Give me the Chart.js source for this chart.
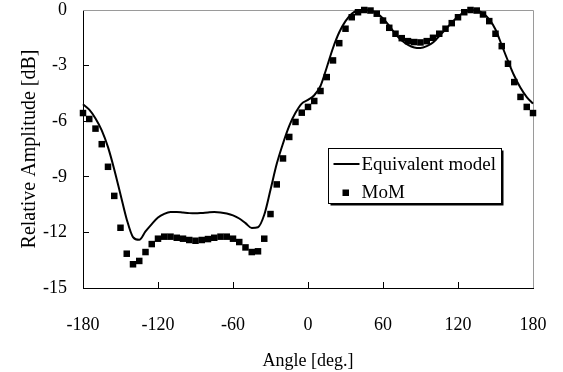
<!DOCTYPE html>
<html>
<head>
<meta charset="utf-8">
<script src="https://cdn.jsdelivr.net/npm/chart.js@4/dist/chart.umd.min.js"></script>
<style>
  html, body { margin: 0; padding: 0; background: #fff; }
  #wrap { width: 563px; height: 372px; }
</style>
</head>
<body>
<div id="wrap"><canvas id="chart"></canvas></div>
<script>
// Angle samples [deg.]
const angleDeg = [
  -180, -175, -170, -165, -160, -155, -150, -145, -140, -135, -130, -125, -120,
  -115, -110, -105, -100, -95, -90, -85, -80, -75, -70, -65, -60,
  -55, -50, -45, -40, -35, -30, -25, -20, -15, -10, -5, 0,
  5, 10, 15, 20, 25, 30, 35, 40, 45, 50, 55, 60,
  65, 70, 75, 80, 85, 90, 95, 100, 105, 110, 115, 120,
  125, 130, 135, 140, 145, 150, 155, 160, 165, 170, 175, 180
];

// Equivalent model (solid line) [dB]
const modelDb = [
  -5.09, -5.38, -5.85, -6.49, -7.40, -8.60, -9.95, -11.30, -12.25, -12.40, -11.95, -11.55, -11.20,
  -11.00, -10.90, -10.90, -10.93, -10.96, -10.97, -10.95, -10.92, -10.90, -10.92, -10.98, -11.08,
  -11.25, -11.50, -11.76, -11.72, -11.05, -9.70, -8.30, -7.20, -6.25, -5.55, -5.05, -4.85,
  -4.60, -4.10, -3.10, -2.05, -1.20, -0.60, -0.20, -0.03, 0.00, -0.03, -0.18, -0.45,
  -0.85, -1.30, -1.65, -1.88, -2.02, -2.05, -1.95, -1.75, -1.40, -1.05, -0.68, -0.35,
  -0.12, 0.00, -0.03, -0.18, -0.50, -1.05, -1.90, -2.75, -3.55, -4.20, -4.70, -5.05
];

// MoM (square markers) [dB]
const momDb = [
  -5.56, -5.88, -6.40, -7.24, -8.46, -10.03, -11.75, -13.15, -13.72, -13.54, -13.06, -12.63, -12.34,
  -12.23, -12.23, -12.29, -12.34, -12.41, -12.45, -12.41, -12.36, -12.29, -12.23, -12.23, -12.34,
  -12.52, -12.81, -13.06, -13.02, -12.34, -11.01, -9.41, -8.01, -6.85, -6.04, -5.54, -5.23,
  -4.91, -4.37, -3.62, -2.72, -1.79, -1.01, -0.39, -0.12, 0.00, -0.03, -0.20, -0.57,
  -0.96, -1.28, -1.52, -1.68, -1.73, -1.75, -1.68, -1.50, -1.28, -1.01, -0.71, -0.39,
  -0.12, 0.00, -0.03, -0.24, -0.60, -1.28, -1.95, -2.90, -3.89, -4.69, -5.23, -5.56
];

const xTickValues = [-180, -120, -60, 0, 60, 120, 180];
const yTickValues = [-15, -12, -9, -6, -3, 0];

const serif = "'Liberation Serif', 'DejaVu Serif', serif";

// Gray frame on top/right plus the boxed legend with a drop shadow
const framePlugin = {
    id: 'frame',
    beforeDatasetsDraw(chart) {
        const { ctx, chartArea: a } = chart;
        ctx.save();
        ctx.strokeStyle = '#9a9a9a';
        ctx.lineWidth = 1;
        ctx.beginPath();
        ctx.moveTo(a.left, a.top + 0.5);
        ctx.lineTo(a.right + 0.5, a.top + 0.5);
        ctx.lineTo(a.right + 0.5, a.bottom);
        ctx.stroke();
        ctx.restore();
    },
    afterDraw(chart) {
        const { ctx, chartArea: a } = chart;
        const w = a.right - a.left;
        const h = a.bottom - a.top;
        const bx = Math.round(a.left + 0.544 * w) + 0.5;
        const by = Math.round(a.top + 0.496 * h) + 0.5;
        const bw = 173;
        const bh = 55;

        ctx.save();
        ctx.fillStyle = '#000';
        ctx.fillRect(bx + 2, by + 2, bw, bh);
        ctx.fillStyle = '#fff';
        ctx.fillRect(bx, by, bw, bh);
        ctx.strokeStyle = '#000';
        ctx.lineWidth = 1;
        ctx.strokeRect(bx, by, bw, bh);

        const ds = chart.data.datasets;
        ctx.font = '19px ' + serif;
        ctx.textBaseline = 'middle';
        ctx.fillStyle = '#000';

        // line entry
        const y1 = by + 15.5;
        ctx.lineWidth = 2;
        ctx.beginPath();
        ctx.moveTo(bx + 5, y1);
        ctx.lineTo(bx + 31, y1);
        ctx.stroke();
        ctx.fillText(ds[0].label, bx + 33, y1 + 1);

        // marker entry
        const y2 = by + 44;
        ctx.fillRect(bx + 14, y2 - 3, 6.5, 6.5);
        ctx.fillText(ds[1].label, bx + 33, y2 + 1);
        ctx.restore();
    }
};

// pin the plot box: fixed axis sizes, no automatic label padding
const pinX = s => {
    s.height = 84;
    s.paddingLeft = 0;
    s.paddingRight = 0;
};
const pinY = s => {
    s.width = 83;
    s.paddingTop = 0;
    s.paddingBottom = 0;
};

new Chart(document.getElementById('chart'), {
    type: 'scatter',
    data: {
        datasets: [
            {
                label: 'Equivalent model',
                data: angleDeg.map((a, i) => ({ x: a, y: modelDb[i] })),
                showLine: true,
                borderColor: '#000',
                borderWidth: 2,
                pointRadius: 0,
                cubicInterpolationMode: 'monotone',
                clip: false
            },
            {
                label: 'MoM',
                data: angleDeg.map((a, i) => ({ x: a, y: momDb[i] })),
                showLine: false,
                pointStyle: 'rect',
                pointRadius: 4.6,
                pointBorderWidth: 0,
                backgroundColor: '#000',
                borderColor: '#000',
                clip: false
            }
        ]
    },
    options: {
        responsive: true,
        maintainAspectRatio: false,
        animation: false,
        layout: { padding: { top: 10, right: 30, left: 0, bottom: 0 } },
        plugins: {
            legend: { display: false },
            tooltip: { enabled: false }
        },
        scales: {
            x: {
                type: 'linear',
                min: -180,
                max: 180,
                afterBuildTicks: s => { s.ticks = xTickValues.map(v => ({ value: v })); },
                afterFit: pinX,
                grid: {
                    drawOnChartArea: false,
                    drawTicks: true,
                    tickLength: -6,
                    color: '#000'
                },
                border: { color: '#000', width: 1 },
                ticks: {
                    color: '#000',
                    font: { family: serif, size: 18 },
                    padding: 32,
                    maxRotation: 0
                },
                title: {
                    display: true,
                    text: 'Angle [deg.]',
                    color: '#000',
                    font: { family: serif, size: 18 },
                    padding: { top: 0, bottom: 0 }
                }
            },
            y: {
                min: -15,
                max: 0,
                afterBuildTicks: s => { s.ticks = yTickValues.map(v => ({ value: v })); },
                afterFit: pinY,
                grid: {
                    drawOnChartArea: false,
                    drawTicks: true,
                    tickLength: -6,
                    color: '#000'
                },
                border: { color: '#000', width: 1 },
                ticks: {
                    color: '#000',
                    font: { family: serif, size: 18, lineHeight: 1 },
                    padding: 22
                },
                title: {
                    display: true,
                    text: 'Relative Amplitude [dB]',
                    color: '#000',
                    font: { family: serif, size: 20 },
                    padding: { top: 18, bottom: 0 }
                }
            }
        }
    },
    plugins: [framePlugin]
});
</script>
</body>
</html>
